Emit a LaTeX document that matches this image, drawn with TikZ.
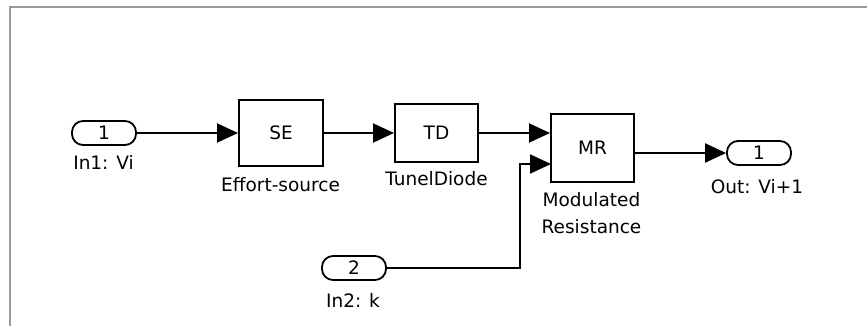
\documentclass[tikz,border=0pt]{standalone}
\usepackage{fontspec}
\setmainfont{DejaVu Sans}
\usetikzlibrary{arrows.meta}
\begin{document}
\begin{tikzpicture}[x=1pt,y=-1pt,
  txt/.style={font=\fontsize{18.5}{20}\selectfont},
  blk/.style={draw,line width=2pt,inner sep=0pt,txt},
  port/.style={draw,rectangle,rounded corners=11pt,line width=1.8pt,minimum width=64pt,minimum height=24pt,inner sep=0pt,txt},
  lbl/.style={txt,inner sep=0pt,anchor=base},
  wire/.style={line width=2pt},
  sig/.style={wire,-{Triangle[length=21pt,width=19pt]}},
  frame/.style={draw=black!40,line width=1.2pt}]
\useasboundingbox (0,0) rectangle (867,326);
% frame
\coordinate (f1) at (10,326);
\coordinate (f2) at (10,7);
\coordinate (f3) at (867,7);
\draw[frame] (f1) -- (f2) -- (f3);
% blocks
\node[port] (in1) at (104,133) {1};
\node[blk,minimum width=84pt,minimum height=66pt] (se) at (281,133) {SE};
\node[blk,minimum width=83pt,minimum height=58pt] (td) at (436.5,133) {TD};
\node[blk,minimum width=83pt,minimum height=68pt] (mr) at (592.5,148) {MR};
\node[port] (in2) at (354,268) {2};
\node[port] (out1) at (759,153) {1};
% labels
\node[lbl] (lin1) at (103.5,169) {In1: Vi};
\node[lbl] (lse) at (280.5,191) {Effort-source};
\node[lbl] (ltd) at (436.5,185) {TunelDiode};
\node[lbl] (lmr1) at (591.5,206) {Modulated};
\node[lbl] (lmr2) at (591.5,233) {Resistance};
\node[lbl] (lout) at (757,193) {Out: Vi+1};
\node[lbl] (lin2) at (353,307) {In2: k};
% ports
\coordinate (mrin1) at (mr.west |- td.east);
\coordinate (mrin2) at (551,164);
\coordinate (mrout) at (mr.east |- out1.west);
\coordinate (bend) at (520,268);
% connectors
\draw[sig] (in1.east) -- (se.west);
\draw[sig] (se.east) -- (td.west);
\draw[sig] (td.east) -- (mrin1);
\draw[sig] (in2.east) -- (bend) |- (mrin2);
\draw[sig] (mrout) -- (out1.west);
\end{tikzpicture}
\end{document}
